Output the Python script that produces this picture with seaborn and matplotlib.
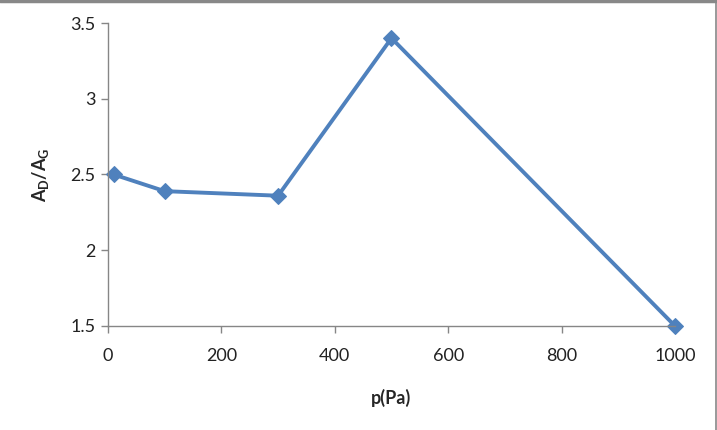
import matplotlib
matplotlib.use("Agg")
import matplotlib.pyplot as plt
import seaborn as sns
import pandas as pd
from matplotlib.lines import Line2D

sns.set_style("white")
plt.rcParams['font.family'] = ['Lato', 'DejaVu Sans']
plt.rcParams['mathtext.fontset'] = 'custom'
plt.rcParams['mathtext.rm'] = 'Lato:bold'

# data
pressure = [10, 100, 300, 500, 1000]
ratio = [2.50, 2.39, 2.36, 3.40, 1.50]
df = pd.DataFrame({"p": pressure, "r": ratio})

xticks = [0, 200, 400, 600, 800, 1000]
yticks = [1.5, 2, 2.5, 3, 3.5]
ytick_labels = ["1.5", "2", "2.5", "3", "3.5"]

fig = plt.figure(figsize=(7.17, 4.30), dpi=100)
ax = fig.add_axes([0.1506, 0.2419, 0.7908, 0.7046])

sns.lineplot(data=df, x="p", y="r", ax=ax, color="#4F81BD", linewidth=2.8,
             marker="D", markersize=8, markeredgecolor="#4F81BD")

ax.set_xlim(0, 1000)
ax.set_ylim(1.5, 3.5)
ax.set_xticks(xticks)
ax.set_xticklabels([str(t) for t in xticks])
ax.set_yticks(yticks)
ax.set_yticklabels(ytick_labels)
for a in ax.get_lines():
    a.set_clip_on(False)

for s in ["top", "right"]:
    ax.spines[s].set_visible(False)
for s in ["left", "bottom"]:
    ax.spines[s].set_color("#868686")
    ax.spines[s].set_linewidth(1)

ax.tick_params(axis="both", direction="out", length=5, width=1, color="#868686",
               labelsize=13, labelcolor="#222222")
ax.tick_params(axis="x", pad=11, bottom=True)
ax.tick_params(axis="y", left=True, pad=4)

ax.set_xlabel("p(Pa)", fontsize=13, fontweight="bold", labelpad=18)
ax.set_ylabel(r"A$_\mathregular{D}$/A$_\mathregular{G}$", fontsize=13,
              fontweight="bold", labelpad=14)

# figure border (top and right visible)
fig.add_artist(Line2D([0, 1], [0.997, 0.997], transform=fig.transFigure,
                      color="#888888", linewidth=2.5))
fig.add_artist(Line2D([0.999, 0.999], [0, 1], transform=fig.transFigure,
                      color="#888888", linewidth=1.2))

fig.savefig("out.png", dpi=100)
